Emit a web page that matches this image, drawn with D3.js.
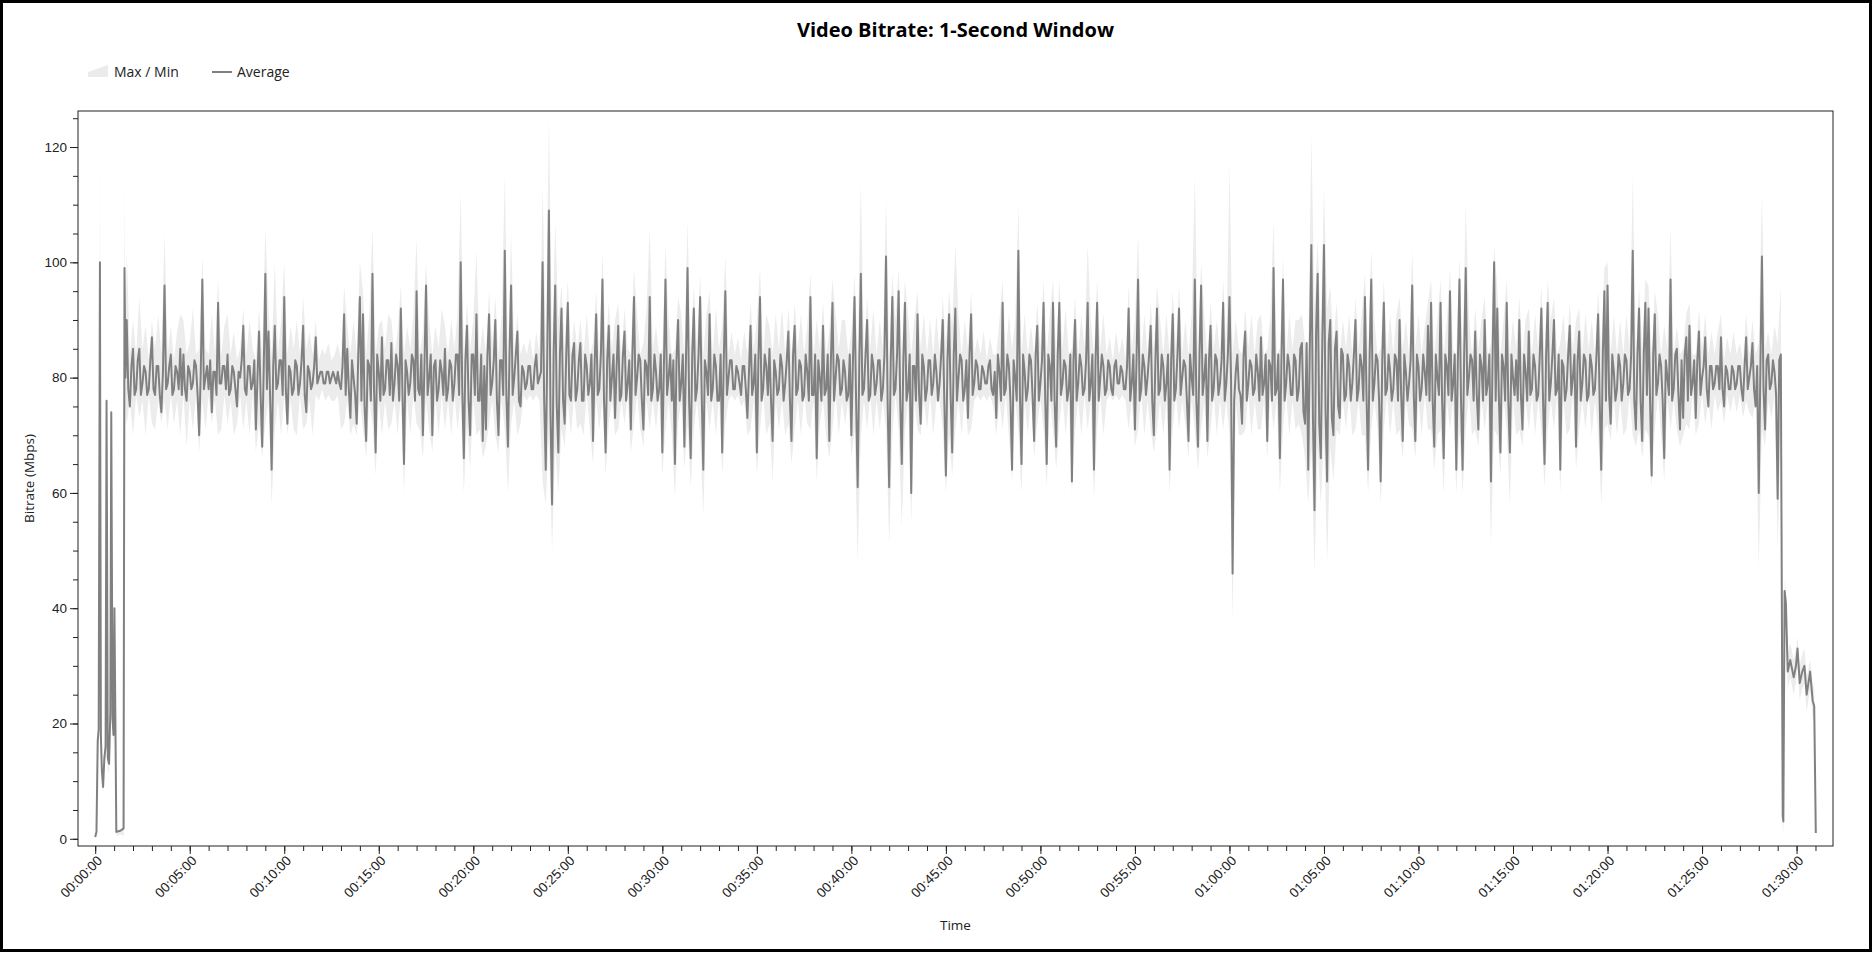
<!DOCTYPE html>
<html>
<head>
<meta charset="utf-8">
<title>Video Bitrate: 1-Second Window</title>
<script src="https://cdn.jsdelivr.net/npm/d3@7"></script>
<style>
  body { margin: 0; background: #fff; font-family: "Open Sans", "Noto Sans", sans-serif; }
  .tick text { font-size: 13.5px; fill: #222; }
  .axisText { font-size: 13.5px; fill: #222; }
</style>
</head>
<body>
<div class="chart"></div>
<script>
// Video bitrate, 1-second window (Mbps)

// start-up burst, first ~100 s (seconds are explicit here)
var startSeconds = [0, 4, 8, 11, 15, 18, 21, 25, 29, 33, 36, 40, 44, 48, 51, 55, 58, 61, 64, 67, 80, 90, 93, 96];
var startAvg = [0.3, 1.2, 17, 19, 100, 18, 12, 9, 14, 16, 76, 14, 13, 22, 74, 21, 18, 40, 21, 1.2, 1.4, 1.8, 99, 80];
var startMax = [0.5, 2, 18, 20, 119, 20, 14, 11, 16, 18, 80, 16, 15, 24, 75, 23, 20, 41, 23, 1.5, 1.7, 2, 114, 86];
var startMin = [0, 0.5, 15, 17, 20, 16, 10, 8, 12, 14, 20, 12, 11, 20, 21, 19, 16, 21, 19, 0.5, 0.8, 0.5, 2, 74];

// main part starts at 100 s
var bodyStart = 100;

// average: one sample every 5 s (one row = one minute)
var avgStep = 5;
var avgMbps = [
  90,78,75,82,85,77,78,83,85,77,79,82, 81,77,78,83,87,78,77,82,82,77,74,81,
  96,78,79,82,84,77,78,82,81,78,85,77, 84,78,76,82,81,78,79,83,82,77,70,81,
  97,78,80,82,78,83,74,81,81,77,93,79, 79,82,82,78,84,77,78,82,81,78,75,81,
  80,83,89,78,77,82,82,78,79,83,71,80, 88,77,68,82,98,78,88,77,64,82,89,78,
  79,83,83,77,94,78,72,82,81,77,78,83, 82,77,79,83,89,77,74,82,81,78,79,82,
  87,79,80,81,81,79,79,81,81,79,80,81, 80,79,81,79,78,82,91,77,85,78,73,83,
  80,77,72,84,94,76,91,75,69,83,82,76, 98,78,67,84,81,76,87,77,78,83,83,77,
  86,76,79,84,82,76,92,78,65,83,81,77, 79,84,83,76,95,78,77,84,70,82,96,77,
  80,84,70,82,83,76,78,83,81,77,85,76, 78,83,82,76,79,84,84,77,100,78,66,83,
  89,76,70,84,84,77,91,76,76,84,69,82, 71,84,91,77,79,83,90,76,70,83,83,77,
  102,77,68,84,96,77,80,84,88,76,75,82, 81,78,79,82,82,78,78,82,84,79,80,81,
  100,76,64,85,109,74,58,84,96,75,67,84, 92,76,72,84,93,77,76,84,86,76,78,83,
  86,76,76,84,82,77,79,84,69,82,91,77, 78,84,97,76,67,83,89,76,80,84,73,82,
  89,76,77,84,88,76,79,83,71,84,94,77, 80,84,83,76,71,83,82,77,94,76,78,84,
  81,76,78,84,67,82,97,77,80,84,76,83, 65,83,90,76,79,84,68,83,99,76,66,84,
  92,76,78,84,94,77,64,83,81,77,91,76, 78,84,82,76,76,84,67,83,95,77,80,83,
  83,78,78,82,81,79,77,82,82,78,73,81, 89,77,79,84,67,83,94,76,78,84,82,77,
  85,76,69,83,81,77,78,84,82,76,79,83, 88,76,69,84,89,77,78,83,82,76,77,84,
  81,76,94,77,77,84,66,83,80,76,89,77, 78,84,69,83,93,76,80,84,83,77,78,83,
  81,76,77,84,70,83,94,76,61,82,98,77, 78,84,90,76,77,84,82,77,79,83,83,76,
  78,84,101,76,61,83,94,77,78,84,95,76, 65,83,93,76,78,84,60,82,82,76,91,77,
  72,84,82,76,78,83,83,77,79,84,81,76, 79,84,90,76,63,83,91,77,67,84,92,76,
  80,84,83,76,78,83,73,84,91,77,79,83, 82,78,78,82,81,79,79,82,83,78,77,81,
  73,84,81,76,93,77,78,84,82,76,64,83, 80,76,102,77,65,84,81,76,78,84,83,77,
  69,84,89,76,79,83,93,77,65,84,82,76, 93,76,68,84,93,77,79,83,82,76,78,84,
  62,83,90,76,79,84,82,77,78,83,93,76, 79,84,64,83,93,76,80,84,82,77,78,83,
  82,78,77,82,83,79,79,82,81,78,78,82, 92,76,79,84,71,83,97,76,78,84,82,77,
  80,84,89,76,70,83,92,77,78,84,82,76, 79,84,64,83,91,76,78,84,92,77,80,83,
  82,76,69,84,80,77,97,76,68,84,96,77, 80,84,69,83,89,76,78,84,83,77,79,83,
  93,76,79,84,94,80,46,76,81,84,78,77, 72,84,88,76,79,83,82,77,78,84,81,76,
  87,77,79,84,69,83,82,76,99,77,78,84, 66,83,97,76,79,84,82,77,77,84,83,76,
  78,85,86,74,72,86,64,85,103,73,57,88, 98,72,66,87,103,74,62,86,90,73,70,85,
  88,75,73,85,84,76,77,84,82,76,79,84, 90,76,78,84,82,76,94,77,64,84,97,76,
  79,84,83,76,62,83,93,77,78,84,81,76, 78,84,83,76,90,77,69,84,81,76,79,83,
  96,77,69,84,82,76,78,84,81,77,89,76, 93,76,68,84,80,77,93,76,66,84,82,77,
  95,76,79,84,64,83,97,76,64,84,99,77, 80,84,83,76,88,77,71,84,82,76,90,77,
  79,84,62,83,100,76,92,77,67,84,82,76, 93,76,67,84,80,77,83,76,90,77,71,84,
  81,76,88,77,78,84,82,76,77,84,92,77, 65,84,93,76,79,84,90,77,78,84,64,83,
  82,76,78,84,89,77,80,84,68,83,88,76, 79,84,83,76,77,84,82,77,78,84,91,76,
  64,84,95,76,96,77,72,84,81,76,78,84, 82,76,79,84,83,77,78,84,102,76,71,84,
  92,76,69,84,93,77,92,76,63,84,91,77, 79,84,82,76,66,83,80,77,97,76,78,84,
  85,77,71,83,73,84,87,76,89,77,79,83, 73,83,88,77,80,82,87,78,75,82,82,78,
  79,82,82,78,87,78,75,82,81,78,78,82, 81,78,79,82,82,78,76,82,87,78,80,82,
  86,78,75,82,60,81,101,78,71,83,84,78, 79,83,81,77,59,83,84
];

// max / min envelope: one sample every 10 s
var bandStep = 10;
var maxMbps = [
  102,84,90,84,94,85, 89,83,90,85,91,84, 105,84,89,83,88,91, 90,84,86,92,84,85,
  101,85,84,91,84,97, 84,89,91,84,88,83, 85,92,84,90,85,83, 92,84,106,92,84,100,
  84,90,100,84,89,85, 90,84,94,85,88,84, 90,83,85,84,86,83, 84,86,83,96,89,84,
  90,84,100,95,84,91, 106,84,89,90,85,91, 90,84,88,96,84,89, 85,91,104,84,88,100,
  90,84,89,85,92,89, 84,90,85,91,112,84, 93,85,90,102,84,89, 84,95,86,94,84,91,
  115,84,105,85,91,84, 86,84,87,83,88,84, 113,86,125,85,107,90, 96,85,97,84,90,85,
  90,84,91,84,86,95, 84,102,85,93,85,90, 93,84,92,85,84,99, 91,84,86,92,106,85,
  89,84,85,103,90,84, 85,94,91,84,107,85, 96,85,98,84,91,95, 84,92,85,89,101,84,
  88,84,87,83,88,84, 93,85,90,99,84,91, 89,84,91,85,92,84, 92,84,93,85,91,84,
  89,98,84,90,85,93, 84,88,97,91,85,90, 90,84,88,98,84,114, 84,94,85,92,84,90,
  85,111,84,98,90,99, 84,97,91,84,90,95, 85,91,84,90,84,91, 84,94,86,95,89,103,
  91,84,90,85,95,84, 87,84,88,83,87,84, 84,90,97,84,91,85, 90,110,84,91,84,89,
  84,93,85,97,84,91, 97,84,97,85,92,84, 85,94,84,91,85,103, 90,84,97,85,91,84,
  87,83,88,84,87,83, 96,85,90,105,84,91, 84,93,85,96,90,84, 91,84,95,85,96,84,
  90,84,91,115,84,100, 91,84,93,85,90,84, 97,85,117,84,90,85, 84,92,85,91,84,90,
  91,84,85,91,107,84, 85,101,84,91,85,90, 90,91,86,84,122,92, 104,88,113,92,96,86,
  93,84,90,85,91,84, 94,85,91,98,84,102, 90,84,85,97,84,91, 84,91,94,85,90,84,
  102,85,91,84,89,93, 97,84,90,97,84,90, 99,85,84,101,85,110, 91,84,92,85,90,94,
  84,86,103,96,84,90, 97,84,90,85,94,84, 90,92,84,91,85,96, 84,97,90,94,84,86,
  91,84,93,85,90,92, 84,91,85,90,84,95, 85,99,100,84,91,84, 90,84,91,85,115,84,
  96,85,97,96,84,95, 91,84,89,85,106,84, 89,84,85,91,93,84, 84,92,85,91,84,88,
  84,88,91,83,87,84, 88,84,86,83,91,84, 90,84,86,112,85,88, 84,89,86,96
];
var minMbps = [
  72,76,70,77,73,76, 70,77,72,71,76,72, 76,71,77,72,76,70, 77,68,76,71,77,67,
  76,71,77,72,76,70, 71,77,72,76,70,72, 77,71,76,70,77,67, 72,66,72,76,58,71,
  76,70,77,70,76,71, 70,77,71,72,76,70, 77,76,78,76,77,76, 76,77,71,72,76,70,
  72,70,76,71,66,76, 72,63,76,70,76,71, 72,76,70,77,60,76, 70,77,72,71,66,76,
  71,67,76,70,77,71, 76,70,77,71,76,60, 72,64,76,70,71,66, 68,72,76,70,67,76,
  71,60,72,76,70,72, 77,76,77,76,77,76, 62,58,70,50,68,60, 71,68,76,70,77,71,
  72,70,77,71,65,76, 71,76,63,72,76,70, 71,76,72,77,67,72, 77,71,68,76,71,76,
  71,77,63,71,76,70, 59,72,76,64,72,61, 71,76,70,56,76,71, 76,70,77,63,72,76,
  77,76,77,75,76,70, 71,76,63,71,77,70, 72,62,76,71,76,70, 72,65,71,76,70,77,
  72,71,76,62,72,76, 70,66,71,77,70,76, 72,76,66,71,48,70, 76,71,77,70,76,71,
  76,71,51,70,77,71, 54,71,76,55,76,71, 70,76,71,77,70,76, 76,71,60,70,63,71,
  76,70,77,70,71,76, 77,76,77,76,77,75, 70,76,71,77,70,62, 76,71,60,76,70,77,
  66,72,76,71,61,76, 71,64,72,77,70,76, 60,71,76,70,77,71, 76,59,71,77,70,76,
  77,76,77,76,77,76, 71,76,68,71,77,70, 76,71,67,71,76,70, 76,60,71,77,71,76,
  72,66,76,71,64,71, 76,66,71,77,70,76, 71,76,70,38,76,70, 70,71,77,70,76,71,
  71,76,66,77,71,76, 60,71,77,70,76,71, 72,70,66,58,68,46, 68,58,70,48,68,62,
  71,70,76,71,77,70, 71,76,70,70,60,71, 76,71,58,71,77,70, 76,70,71,66,76,72,
  71,66,76,70,77,71, 71,64,70,71,60,76, 71,76,60,71,60,71, 77,70,71,68,76,71,
  76,51,71,70,63,76, 71,58,76,70,71,68, 76,71,77,70,76,71, 61,71,76,71,77,60,
  76,70,71,77,64,71, 76,71,77,70,76,71, 58,71,72,69,76,70, 76,70,71,77,70,68,
  71,66,71,70,61,71, 77,70,62,76,71,76, 71,68,70,72,71,77, 70,72,77,72,76,71,
  77,74,76,72,77,74, 77,74,77,73,76,74, 73,76,47,71,68,76, 73,77,50,72
];

// tail after the drop near 01:29:16
var tailSeconds = [5356, 5358, 5362, 5366, 5372, 5380, 5391, 5398, 5403, 5410, 5418, 5425, 5432, 5443, 5451, 5456, 5461];
var tailAvg = [4, 3, 43, 41, 29, 31, 28, 30, 33, 27, 29, 30, 25, 29, 24, 23, 1];
var tailMax = [8, 6, 45, 43, 32, 34, 31, 33, 35, 30, 32, 33, 28, 31, 27, 26, 2];
var tailMin = [2, 1, 40, 38, 26, 28, 25, 27, 30, 24, 26, 27, 22, 26, 21, 20, 0];

var titleText = "Video Bitrate: 1-Second Window";

var svgWidth = 1872;
var svgHeight = 953;

var margin = {
    top: 111,
    right: 39,
    bottom: 107,
    left: 78
};

var width = svgWidth - margin.left - margin.right;
var height = svgHeight - margin.top - margin.bottom;

// build the point lists for the line and for the band
var lineData = [];
var bandData = [];
startSeconds.forEach(function (s, i) {
    lineData.push({ t: s, v: startAvg[i] });
    bandData.push({ t: s, max: startMax[i], min: startMin[i] });
});
avgMbps.forEach(function (v, i) {
    lineData.push({ t: bodyStart + i * avgStep, v: v });
});
maxMbps.forEach(function (v, i) {
    bandData.push({ t: bodyStart + i * bandStep, max: v, min: minMbps[i] });
});
tailSeconds.forEach(function (s, i) {
    lineData.push({ t: s, v: tailAvg[i] });
    bandData.push({ t: s, max: tailMax[i], min: tailMin[i] });
});

function hms(s) {
    var h = Math.floor(s / 3600);
    var m = Math.floor((s % 3600) / 60);
    var sec = s % 60;
    return [h, m, sec].map(function (n) { return (n < 10 ? "0" : "") + n; }).join(":");
}

var svg = d3.select(".chart")
    .append("svg")
    .attr("width", svgWidth)
    .attr("height", svgHeight);

// outer border
svg.append("rect")
    .attr("x", 1.5)
    .attr("y", 1.5)
    .attr("width", svgWidth - 3)
    .attr("height", svgHeight - 4)
    .attr("fill", "none")
    .attr("stroke", "#000")
    .attr("stroke-width", 3);

var chartGroup = svg.append("g")
    .attr("transform", `translate(${margin.left}, ${margin.top})`);

// scales, 1% padding on both axes
var tMax = d3.max(lineData, d => d.t);
var yMax = d3.max(bandData, d => d.max);
var xLinearScale = d3.scaleLinear()
    .domain([-tMax * 0.01, tMax * 1.01])
    .range([0, width]);

var yLinearScale = d3.scaleLinear()
    .domain([-yMax * 0.01, yMax * 1.01])
    .range([height, 0]);

// max / min band
var band = d3.area()
    .x(d => xLinearScale(d.t))
    .y0(d => yLinearScale(d.min))
    .y1(d => yLinearScale(d.max));

chartGroup.append("path")
    .datum(bandData)
    .attr("d", band)
    .attr("fill", "#ececec");

// average line
var avgLine = d3.line()
    .x(d => xLinearScale(d.t))
    .y(d => yLinearScale(d.v));

chartGroup.append("path")
    .datum(lineData)
    .attr("d", avgLine)
    .attr("fill", "none")
    .attr("stroke", "#808080")
    .attr("stroke-width", 2)
    .attr("stroke-linejoin", "round");

// plot frame
chartGroup.append("rect")
    .attr("width", width)
    .attr("height", height)
    .attr("fill", "none")
    .attr("stroke", "#222")
    .attr("stroke-width", 1);

// x axis: minor ticks each minute, labels every 5 minutes
var xMinor = d3.axisBottom(xLinearScale)
    .tickValues(d3.range(0, tMax + 1, 60))
    .tickSize(5)
    .tickFormat("");
chartGroup.append("g")
    .attr("transform", `translate(0, ${height})`)
    .call(xMinor)
    .call(g => g.select(".domain").remove());

var bottomAxis = d3.axisBottom(xLinearScale)
    .tickValues(d3.range(0, tMax, 300))
    .tickSize(8)
    .tickFormat(hms);
chartGroup.append("g")
    .attr("transform", `translate(0, ${height})`)
    .call(bottomAxis)
    .call(g => g.select(".domain").remove())
    .selectAll("text")
    .attr("x", 4)
    .attr("y", 12)
    .attr("dy", "0.35em")
    .attr("text-anchor", "end")
    .attr("transform", "rotate(-45, 4, 12)");

// y axis: minor ticks every 5, labels every 20
var yMinor = d3.axisLeft(yLinearScale)
    .tickValues(d3.range(0, yMax + 1, 5))
    .tickSize(5)
    .tickFormat("");
chartGroup.append("g")
    .call(yMinor)
    .call(g => g.select(".domain").remove());

var leftAxis = d3.axisLeft(yLinearScale)
    .tickValues(d3.range(0, 121, 20))
    .tickSize(8);
chartGroup.append("g")
    .call(leftAxis)
    .call(g => g.select(".domain").remove());

chartGroup.selectAll(".tick line").attr("stroke", "#222");

// axes labels
chartGroup.append("text")
    .attr("transform", "rotate(-90)")
    .attr("x", 0 - (height / 2))
    .attr("y", 0 - margin.left + 34)
    .attr("text-anchor", "middle")
    .attr("class", "axisText")
    .text("Bitrate (Mbps)");

chartGroup.append("text")
    .attr("x", width / 2)
    .attr("y", height + 84)
    .attr("text-anchor", "middle")
    .attr("class", "axisText")
    .text("Time");

// title
svg.append("text")
    .attr("x", margin.left + width / 2)
    .attr("y", 37)
    .attr("text-anchor", "middle")
    .style("font-size", "20px")
    .style("font-weight", "bold")
    .attr("fill", "#000")
    .text(titleText);

// legend
var legend = svg.append("g");
legend.append("polygon")
    .attr("points", "88,77 88,72 108,65 108,77")
    .attr("fill", "#ebebeb");
legend.append("text")
    .attr("x", 114)
    .attr("y", 77)
    .attr("class", "axisText")
    .style("font-size", "14px")
    .text("Max / Min");
legend.append("line")
    .attr("x1", 212).attr("x2", 232)
    .attr("y1", 72).attr("y2", 72)
    .attr("stroke", "#808080")
    .attr("stroke-width", 2);
legend.append("text")
    .attr("x", 237)
    .attr("y", 77)
    .attr("class", "axisText")
    .style("font-size", "14px")
    .text("Average");
</script>
</body>
</html>
